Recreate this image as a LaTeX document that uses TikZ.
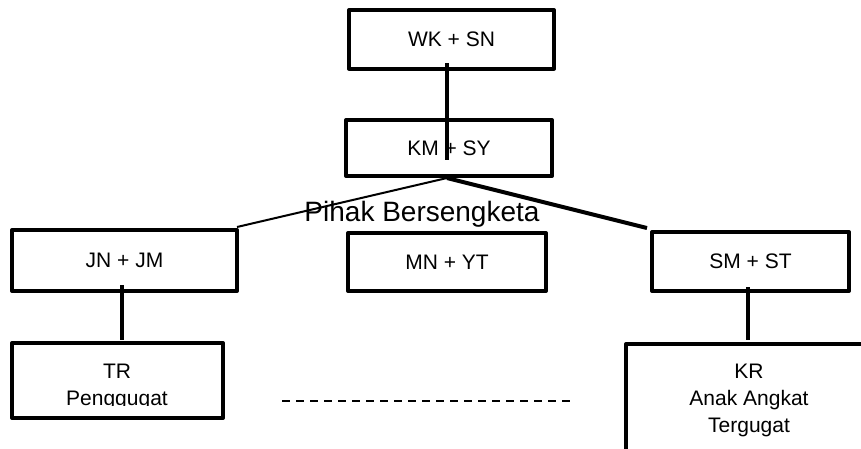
\documentclass[tikz,border=0pt]{standalone}
\usepackage{fontspec}
\setmainfont{Liberation Sans}

\begin{document}
\begin{tikzpicture}[x=1pt,y=-1pt,line join=round]
\tikzstyle{box}=[draw,rectangle,line width=4pt,outer sep=0pt,inner sep=0pt,font=\fontsize{21pt}{27pt}\selectfont,align=center]
\tikzstyle{txt}=[inner sep=0pt,font=\fontsize{21pt}{27pt}\selectfont,align=center]
\tikzstyle{link}=[line width=4pt]
\tikzstyle{thinlink}=[line width=2pt]

\clip (0,0) rectangle (861,448);

\node[box,minimum width=205pt,minimum height=58.5pt] (WK) at (451.5,39.3) {WK + SN};
\node[box,minimum width=206pt,minimum height=56pt]   (KM) at (449,148)    {KM + SY};
\node[box,minimum width=225pt,minimum height=61pt]   (JN) at (124.5,260.5) {JN + JM};
\node[box,minimum width=198pt,minimum height=58pt]   (MN) at (447,262)    {MN + YT};
\node[box,minimum width=197pt,minimum height=59pt]   (SM) at (750.5,261.5) {SM + ST};
\node[box,minimum width=211pt,minimum height=75pt]   (TR) at (117.5,380.5) {};
\node[box,minimum width=274pt,minimum height=136pt]  (KR) at (763,412)    {};

\node[txt,font=\fontsize{28pt}{34pt}\selectfont] (pihak) at (422,214) {Pihak Bersengketa};

% teks di dalam kotak bawah
\begin{scope}
\clip (TR.north west) rectangle ([yshift=13pt]TR.south east);
\node[txt] (TRtext) at (117,387) {TR\\Penggugat};
\end{scope}
\node[txt] (KRtext) at (749,400) {KR\\Anak Angkat\\Tergugat};

\coordinate (SMfoot) at ([xshift=-3pt]SM.south);
\coordinate (dashL) at (282,401);
\coordinate (dashR) at (570,401);

\draw[link] ([xshift=-4.5pt,yshift=5.5pt]WK.south) -- ([xshift=-2pt,yshift=-12pt]KM.center);
\draw[thinlink] ([xshift=-2pt,yshift=-2pt]KM.south) -- ([yshift=3pt]JN.north east);
\draw[link] ([xshift=-2pt,yshift=-2pt]KM.south) -- ([xshift=-5pt,yshift=4pt]SM.north west);
\draw[link] ([xshift=-2.5pt,yshift=6pt]JN.south) -- ([xshift=4.5pt,yshift=3pt]TR.north);
\draw[link] ([yshift=4pt]SMfoot) -- ([yshift=4pt]SMfoot |- KR.north);
\draw[line width=2.2pt,dash pattern=on 8pt off 6pt] (dashL) -- (dashR);
\end{tikzpicture}
\end{document}
